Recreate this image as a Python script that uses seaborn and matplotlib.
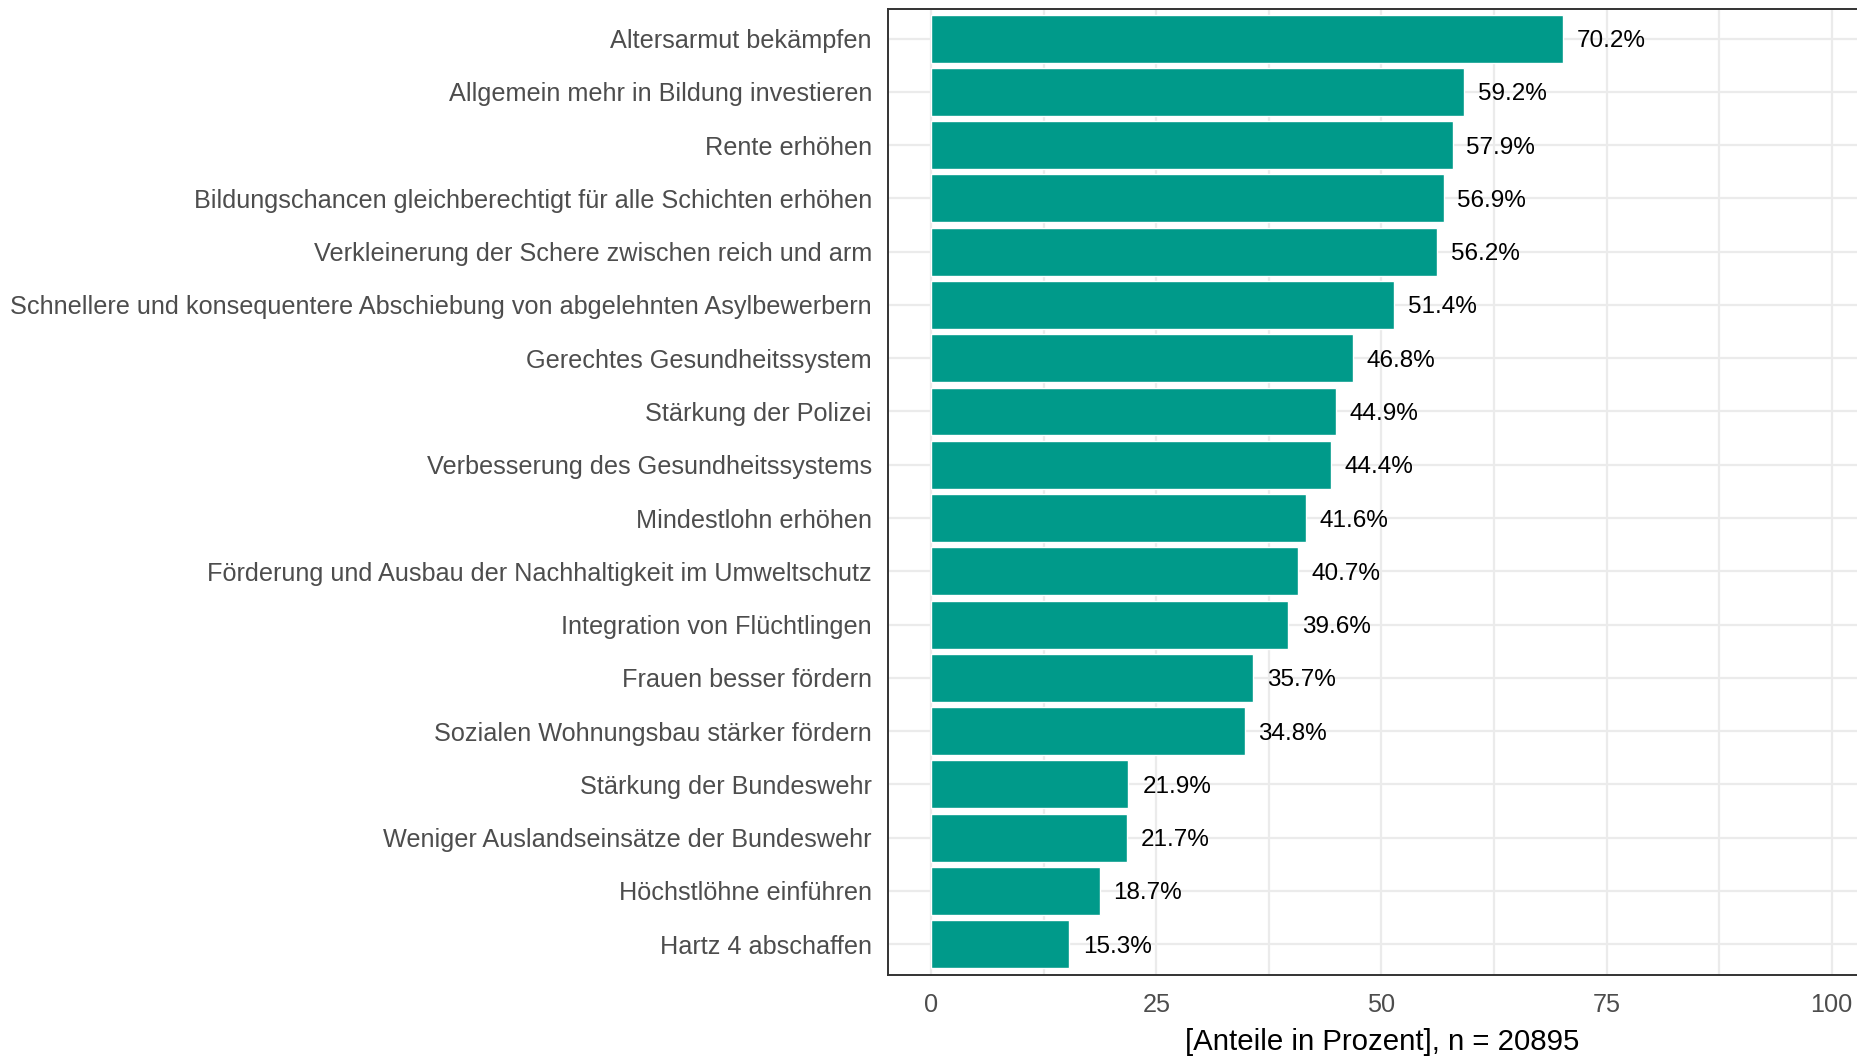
import matplotlib
matplotlib.use("Agg")
import matplotlib.pyplot as plt
import seaborn as sns
import pandas as pd
from matplotlib.ticker import MultipleLocator

categories = [
    "Altersarmut bekämpfen",
    "Allgemein mehr in Bildung investieren",
    "Rente erhöhen",
    "Bildungschancen gleichberechtigt für alle Schichten erhöhen",
    "Verkleinerung der Schere zwischen reich und arm",
    "Schnellere und konsequentere Abschiebung von abgelehnten Asylbewerbern",
    "Gerechtes Gesundheitssystem",
    "Stärkung der Polizei",
    "Verbesserung des Gesundheitssystems",
    "Mindestlohn erhöhen",
    "Förderung und Ausbau der Nachhaltigkeit im Umweltschutz",
    "Integration von Flüchtlingen",
    "Frauen besser fördern",
    "Sozialen Wohnungsbau stärker fördern",
    "Stärkung der Bundeswehr",
    "Weniger Auslandseinsätze der Bundeswehr",
    "Höchstlöhne einführen",
    "Hartz 4 abschaffen",
]
values = [70.2, 59.2, 57.9, 56.9, 56.2, 51.4, 46.8, 44.9, 44.4, 41.6,
          40.7, 39.6, 35.7, 34.8, 21.9, 21.7, 18.7, 15.3]
x_ticks = [0, 25, 50, 75, 100]
x_title = "[Anteile in Prozent], n = 20895"

df = pd.DataFrame({"cat": categories, "val": values})

sns.set_style("white")
plt.rcParams['font.family'] = ['Liberation Sans', 'DejaVu Sans']

W, H = 1858, 1058
fig = plt.figure(figsize=(W / 100, H / 100), dpi=100)
left, right, top, bottom = 888.3, 1876.7, 9, 975
ax = fig.add_axes([left / W, 1 - bottom / H, (right - left) / W, (bottom - top) / H])

sns.barplot(data=df, x="val", y="cat", orient="h", color="#009A8A",
            saturation=1, width=0.9, ax=ax, zorder=3)

ax.set_xlim(-4.77, 105)
ax.set_ylim(len(categories) - 1 + 0.58, -0.557)
ax.xaxis.set_minor_locator(MultipleLocator(12.5))
ax.set_xticks(x_ticks)
ax.set_xticklabels([str(t) for t in x_ticks])

ax.grid(True, which="major", axis="both", color="#EBEBEB", linewidth=1.6, zorder=0)
ax.grid(True, which="minor", axis="x", color="#EBEBEB", linewidth=1.6, zorder=0)
ax.set_axisbelow(True)

for s in ax.spines.values():
    s.set_color("#333333")
    s.set_linewidth(1.4)
    s.set_visible(True)

ax.tick_params(axis="both", which="major", length=5.8, width=1.2, color="#333333",
               labelcolor="#4D4D4D", labelsize=18.2)
ax.tick_params(axis="y", pad=6)
ax.tick_params(axis="x", pad=7)
ax.tick_params(axis="x", which="minor", length=0)
for lbl in ax.get_yticklabels():
    lbl.set_verticalalignment("center_baseline")
ax.set_ylabel("")
ax.set_xlabel(x_title, fontsize=21.2, color="black", labelpad=8)

for c in ax.containers:
    texts = ax.bar_label(c, labels=[f"{v}%" for v in values], padding=10,
                         fontsize=17.5, color="black")
    for t in texts:
        t.set_verticalalignment("center_baseline")

fig.savefig("out.png", dpi=100)
